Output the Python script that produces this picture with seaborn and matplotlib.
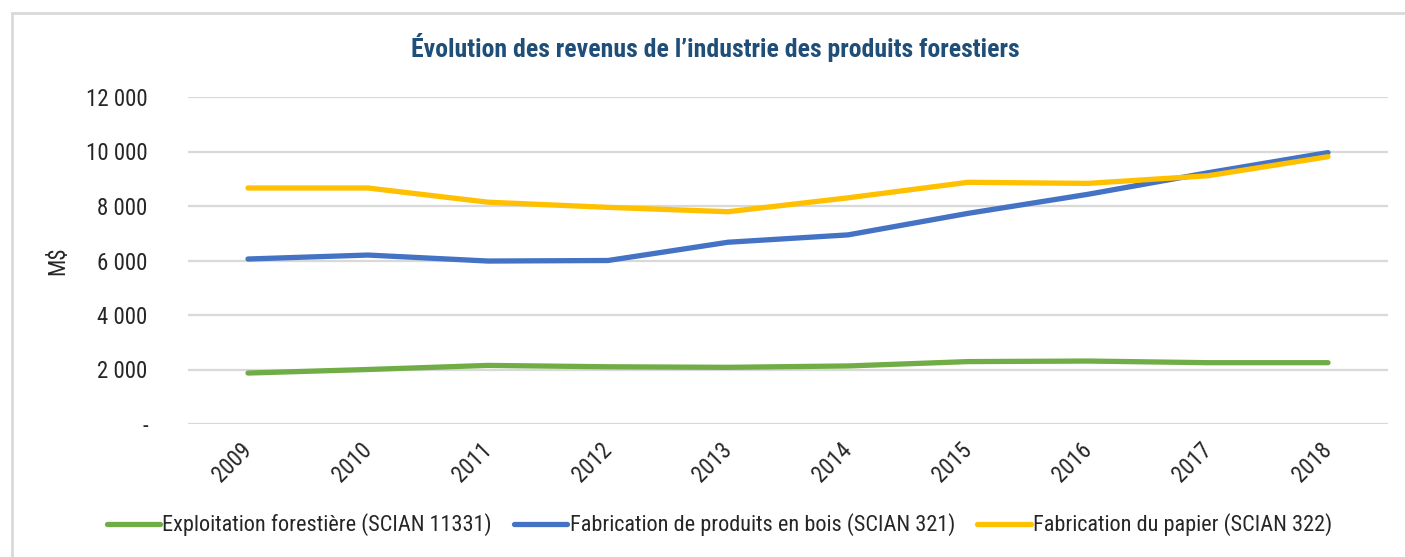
import pandas as pd
import matplotlib.pyplot as plt
import matplotlib.patches as patches
from matplotlib.ticker import FuncFormatter
import seaborn as sns

# Données (M$)
annees = [2009, 2010, 2011, 2012, 2013, 2014, 2015, 2016, 2017, 2018]
exploitation = [1870, 2000, 2150, 2100, 2080, 2130, 2290, 2310, 2250, 2250]
bois = [6055, 6200, 5980, 6000, 6670, 6940, 7730, 8430, 9220, 9960]
papier = [8660, 8660, 8140, 7950, 7790, 8300, 8870, 8830, 9110, 9810]

series = ['Exploitation forestière (SCIAN 11331)',
          'Fabrication de produits en bois (SCIAN 321)',
          'Fabrication du papier (SCIAN 322)']
couleurs = ['#70AD47', '#4472C4', '#FFC000']

df = pd.DataFrame({'Annee': annees * 3,
                   'Revenu': exploitation + bois + papier,
                   'Serie': [s for s in series for _ in annees]})

sns.set_style('white')
plt.rcParams['font.family'] = ['Roboto Condensed', 'DejaVu Sans']

fig = plt.figure(figsize=(14.05, 5.57), dpi=100)
ax = fig.add_axes([188 / 1405, 1 - 424 / 557, 1200 / 1405, 327 / 557])

# cadre gris du graphique
fig.patches.append(patches.Rectangle((12 / 1405, -0.1), 1.2, 1 - 13 / 557 + 0.1,
                                     transform=fig.transFigure, fill=False,
                                     edgecolor='#d9d9d9', linewidth=2))

sns.lineplot(data=df, x='Annee', y='Revenu', hue='Serie', palette=couleurs,
             linewidth=3.8, ax=ax, legend=False, solid_capstyle='round')

ax.set_xlim(2008.5, 2018.5)
ax.set_ylim(0, 12000)
ax.set_yticks(range(0, 12001, 2000))
ax.yaxis.set_major_formatter(FuncFormatter(
    lambda v, p: '-' if v == 0 else f'{int(v):,}'.replace(',', ' ')))
ax.set_xticks(annees)
ax.set_xticklabels([str(a) for a in annees], rotation=45, ha='right',
                   va='center', rotation_mode='anchor')
ax.tick_params(axis='x', length=0, pad=16, labelsize=16.5)
ax.tick_params(axis='y', length=0, pad=29, labelsize=16.5)
ax.grid(axis='y', color='#d9d9d9', linewidth=1.6)
ax.set_axisbelow(True)
for s in ax.spines.values():
    s.set_visible(False)

ax.set_xlabel('')
ax.set_ylabel('M$', fontsize=16.5, labelpad=12)

fig.text(0.509, 1 - 48 / 557, 'Évolution des revenus de l’industrie des produits forestiers',
         ha='center', va='center', fontsize=18.5, fontweight='bold', color='#1F4E79')

handles = [plt.Line2D([], [], color=c, linewidth=3.8, solid_capstyle='round') for c in couleurs]
fig.legend(handles, series, loc='center', bbox_to_anchor=(0.512, 1 - 525 / 557), ncol=3,
           frameon=False, fontsize=16, handlelength=2.4, handletextpad=0.1,
           columnspacing=1.0)

fig.savefig('out.png', dpi=100)
